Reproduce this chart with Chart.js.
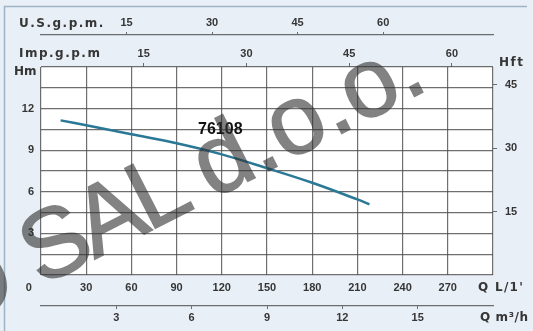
<!DOCTYPE html>
<html>
<head>
<meta charset="utf-8">
<script src="https://cdn.jsdelivr.net/npm/chart.js@4.4.1/dist/chart.umd.min.js"></script>
<style>
  html, body { margin: 0; padding: 0; background: #e8eff6; }
  #wrap { width: 533px; height: 331px; }
</style>
</head>
<body>
<div id="wrap"><canvas id="pump-chart" width="533" height="331"></canvas></div>
<script>
// Pump curve 76108
const flowLpm = [13, 30, 60, 90, 120, 150, 180, 210, 218];
const headM = [11.15, 10.8, 10.15, 9.5, 8.7, 7.7, 6.65, 5.45, 5.1];

// Tick values for each axis
const lpmTicks = [0, 30, 60, 90, 120, 150, 180, 210, 240, 270, 300];
const m3hTicks = [3, 6, 9, 12, 15];
const usGpmTicks = [15, 30, 45, 60];
const impGpmTicks = [15, 30, 45, 60];
const headMLabels = [3, 6, 9, 12];
const headFtTicks = [15, 30, 45];

const curveName = "76108";
const curveLabelAt = { x: 119, y: 10.5 };
// watermark "OSAL d.o.o.", drawn in three pieces to follow its spacing
const watermarkParts = ["O", "SAL ", "d.o.o."];

// Ranges and unit conversions
const lpmMax = 300;
const headMax = 15;
const LPM_PER_USGPM = 3.785;
const LPM_PER_IMPGPM = 4.546;
const LPM_PER_M3H = 1000 / 60;
const FT_PER_M = 3.2808;

const gridColor = "rgba(75, 75, 75, 0.8)";
const textColor = "#363636";
const tickFont = { family: "'Liberation Sans', Arial, sans-serif", size: 11, weight: "bold" };
const titleFont = "bold 12px 'DejaVu Sans', sans-serif";

function fixedTicks(list) {
  return (scale) => { scale.ticks = list.map((v) => ({ value: v })); };
}
function fixedHeight(h) {
  return (scale) => { scale.height = h; };
}
function fixedWidth(w) {
  return (scale) => { scale.width = w; };
}

function spacedText(ctx, text, x, y, spacing) {
  ctx.letterSpacing = spacing + "px";
  ctx.fillText(text, x, y);
  ctx.letterSpacing = "0px";
}

function markText(ctx, text, x, y) {
  ctx.fillText(text, x, y);
  ctx.strokeText(text, x, y);
}

// watermark drawn once on its own canvas, then laid over the chart
function drawWatermark(ctx, w, h) {
  const layer = document.createElement("canvas");
  layer.width = w;
  layer.height = h;
  const c = layer.getContext("2d");
  const [head, mid, tail] = watermarkParts;
  c.translate(416, 90);
  c.rotate(-27 * Math.PI / 180);
  c.fillStyle = "#303030";
  c.strokeStyle = "#303030";
  c.lineWidth = 1.5;
  c.font = "98px 'Liberation Sans', Arial, sans-serif";
  c.textBaseline = "alphabetic";
  c.textAlign = "left";
  const tailX = 14 - c.measureText(tail).width;
  markText(c, tail, tailX, 5);
  c.letterSpacing = "-5px";
  const midX = tailX - c.measureText(mid).width;
  markText(c, mid, midX, 5);
  c.letterSpacing = "0px";
  const headX = midX - 22 - c.measureText(head).width;
  markText(c, head, headX, 5);
  ctx.save();
  ctx.globalAlpha = 0.6;
  ctx.drawImage(layer, 0, 0);
  ctx.restore();
}

// Panel background, frame, titles, curve name and watermark
const decor = {
  id: "decor",
  beforeDraw(chart) {
    const { ctx, chartArea: a } = chart;
    ctx.save();
    ctx.fillStyle = "#e8eff6";
    ctx.fillRect(0, 0, chart.width, chart.height);
    ctx.strokeStyle = "#9fb3c6";
    ctx.lineWidth = 1.5;
    ctx.beginPath();
    ctx.moveTo(4.5, chart.height + 2);
    ctx.lineTo(4.5, 6.5);
    ctx.lineTo(527, 6.5);
    ctx.stroke();
    ctx.fillStyle = "#ffffff";
    ctx.fillRect(a.left, a.top, a.right - a.left, a.bottom - a.top);
    ctx.restore();
  },
  afterDraw(chart) {
    const { ctx, scales } = chart;
    const a = chart.chartArea;
    ctx.save();
    ctx.fillStyle = textColor;
    ctx.font = titleFont;
    ctx.textBaseline = "middle";
    ctx.textAlign = "left";
    spacedText(ctx, "U.S.g.p.m.", 19, 23.5, 1.5);
    spacedText(ctx, "Imp.g.p.m", 19, 54, 1.5);
    spacedText(ctx, "Hm", 14, a.top + 5, 0);
    spacedText(ctx, "Hft", 499, 62.5, 1.5);
    spacedText(ctx, "Q L/1'", 478, scales.x.top + 13, 1.3);
    spacedText(ctx, "Q m\u00b3/h", 480, scales.x2.top + 12, 0.6);

    // curve name
    ctx.fillStyle = "#111";
    ctx.font = "bold 16px 'Liberation Sans', Arial, sans-serif";
    ctx.textAlign = "center";
    ctx.fillText(curveName, scales.x.getPixelForValue(curveLabelAt.x), scales.y.getPixelForValue(curveLabelAt.y));
    ctx.restore();

    drawWatermark(ctx, chart.width, chart.height);
  },
};

const ctx = document.getElementById("pump-chart").getContext("2d");
new Chart(ctx, {
  type: "line",
  data: {
    datasets: [
      {
        label: curveName,
        data: flowLpm.map((q, i) => ({ x: q, y: headM[i] })),
        borderColor: "#2a7895",
        borderWidth: 2.5,
        pointRadius: 0,
        tension: 0.35,
        fill: false,
        xAxisID: "x",
        yAxisID: "y",
      },
    ],
  },
  options: {
    responsive: false,
    animation: false,
    layout: { padding: { left: 5, right: 0, top: 0, bottom: 0 } },
    plugins: { legend: { display: false }, tooltip: { enabled: false } },
    scales: {
      x: {
        type: "linear",
        position: "bottom",
        min: 0,
        max: lpmMax,
        weight: 0,
        afterBuildTicks: fixedTicks(lpmTicks),
        afterFit: fixedHeight(31),
        grid: { color: gridColor, lineWidth: 1.2, drawTicks: false },
        border: { display: false },
        ticks: {
          autoSkip: false,
          maxRotation: 0,
          padding: 6,
          color: textColor,
          font: tickFont,
          callback: (v) => (v === lpmMax ? "" : v === 0 ? "0\u2007\u2007\u2007\u2007" : String(v)),
        },
      },
      x2: {
        type: "linear",
        position: "bottom",
        min: 0,
        max: lpmMax / LPM_PER_M3H,
        weight: 1,
        afterBuildTicks: fixedTicks(m3hTicks),
        afterFit: fixedHeight(25),
        grid: { drawOnChartArea: false, tickLength: 3, color: gridColor },
        border: { display: true, color: gridColor, width: 1.2 },
        ticks: { autoSkip: false, maxRotation: 0, padding: 2, color: textColor, font: tickFont },
      },
      x4: {
        type: "linear",
        position: "top",
        min: 0,
        max: lpmMax / LPM_PER_IMPGPM,
        weight: 0,
        afterBuildTicks: fixedTicks(impGpmTicks),
        afterFit: fixedHeight(32),
        grid: { drawOnChartArea: false, tickLength: 4, color: gridColor },
        border: { display: false },
        ticks: { autoSkip: false, maxRotation: 0, padding: 2, color: textColor, font: tickFont },
      },
      x3: {
        type: "linear",
        position: "top",
        min: 0,
        max: lpmMax / LPM_PER_USGPM,
        weight: 1,
        afterBuildTicks: fixedTicks(usGpmTicks),
        afterFit: fixedHeight(35),
        grid: { drawOnChartArea: false, tickLength: 3, color: gridColor },
        border: { display: true, color: gridColor, width: 1.2 },
        ticks: { autoSkip: false, maxRotation: 0, padding: 2, color: textColor, font: tickFont },
      },
      y: {
        type: "linear",
        position: "left",
        min: 0,
        max: headMax,
        afterFit: fixedWidth(36),
        grid: { color: gridColor, lineWidth: 1.2, drawTicks: false },
        border: { display: false },
        ticks: {
          stepSize: 1.5,
          autoSkip: false,
          padding: 7,
          color: textColor,
          font: tickFont,
          callback: (v) => (headMLabels.some((t) => Math.abs(t - v) < 1e-6) ? String(v) : ""),
        },
      },
      y2: {
        type: "linear",
        position: "right",
        min: 0,
        max: headMax * FT_PER_M,
        afterBuildTicks: fixedTicks(headFtTicks),
        afterFit: fixedWidth(40),
        grid: { drawOnChartArea: false, tickLength: 4, color: gridColor },
        border: { display: false },
        ticks: { autoSkip: false, padding: 8, color: textColor, font: tickFont },
      },
    },
  },
  plugins: [decor],
});
</script>
</body>
</html>
